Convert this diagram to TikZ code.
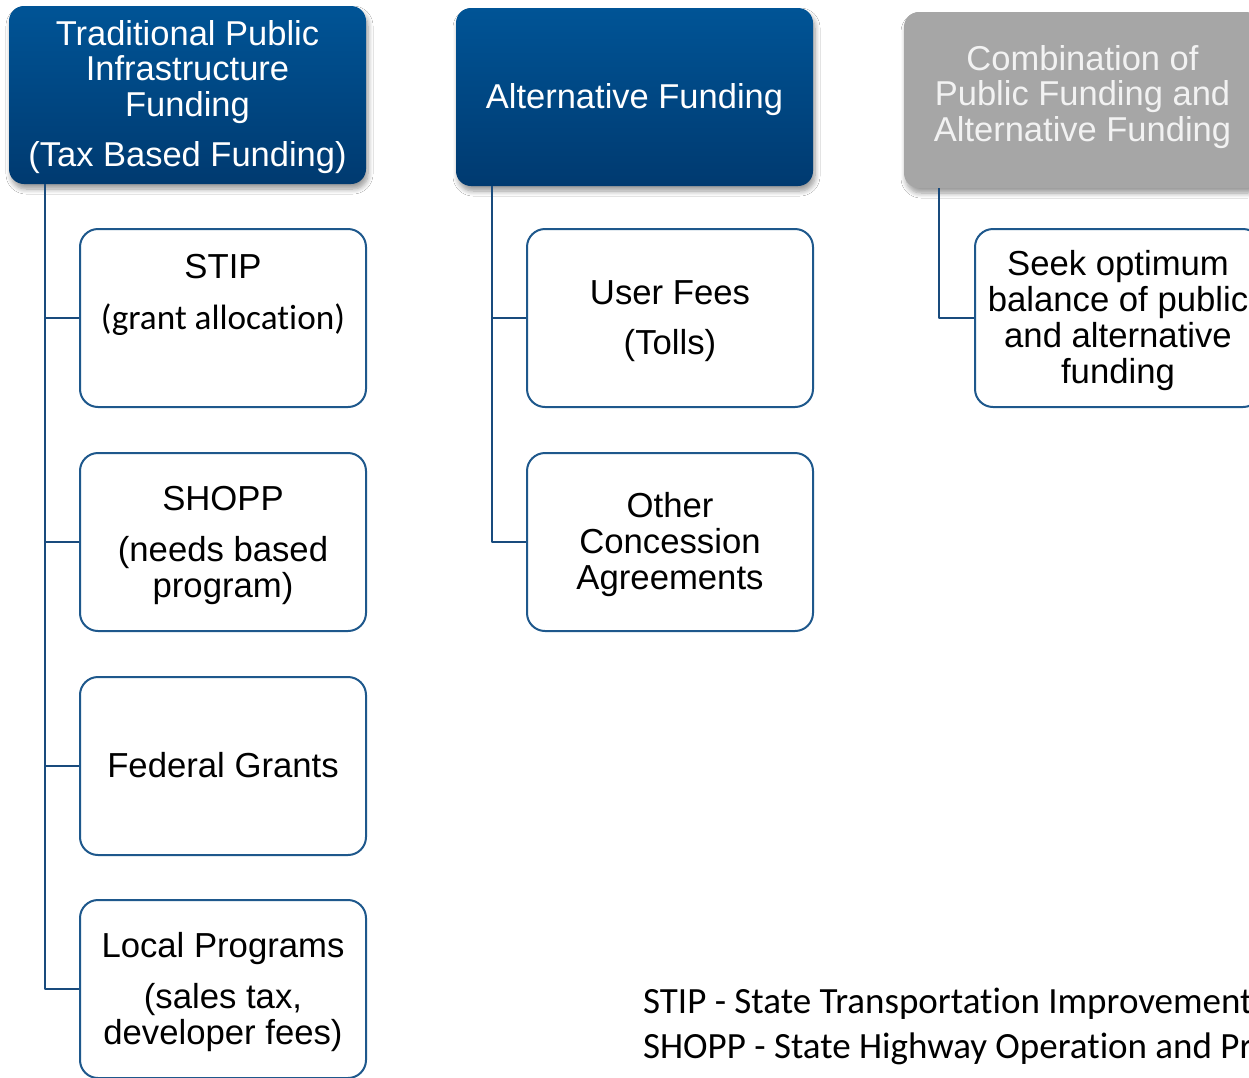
\documentclass[tikz,border=0pt]{standalone}
\usepackage{fontspec}
\setmainfont{Liberation Sans}
\newfontfamily\calibri[Ligatures=NoCommon]{Carlito}
\usepackage{tikz}
\usetikzlibrary{shadows,shadows.blur,backgrounds}
\definecolor{hdrtop}{RGB}{0,84,150}
\definecolor{hdrbot}{RGB}{0,58,112}
\definecolor{hdrgray}{RGB}{166,166,166}
\definecolor{boxline}{RGB}{30,88,140}
\definecolor{linkline}{RGB}{25,75,125}

\begin{document}
\begin{tikzpicture}[x=1pt,y=-1pt,join=round,
    hdr/.style={rounded corners=15pt,minimum width=357pt,minimum height=178pt,inner sep=0pt,
        blur shadow={shadow xshift=2pt,shadow yshift=-5pt,shadow blur radius=5pt,
            shadow blur steps=8,shadow opacity=40}},
    bluehdr/.style={hdr,top color=hdrtop,bottom color=hdrbot},
    grayhdr/.style={hdr,fill=hdrgray,minimum height=176pt},
    hdrtxt/.style={inner sep=0pt,align=center,text=white,font=\fontsize{34.5}{35.5}\selectfont},
    childbox/.style={draw=boxline,line width=2pt,rounded corners=18pt,fill=white,
        minimum width=286pt,minimum height=178pt,inner sep=0pt},
    childtxt/.style={inner sep=0pt,align=center,font=\fontsize{34.7}{36}\selectfont},
    link/.style={draw=linkline,line width=2pt}] % Funding Options
  \useasboundingbox[fill=white] (0,0) rectangle (1249,1077);
  % header boxes
  \node[bluehdr] (trad) at (187.5,95) {};
  \node[hdrtxt] (tradtxt) at ([yshift=-2pt]trad) {Traditional Public\\Infrastructure\\Funding\\[14.5pt](Tax Based Funding)};
  \node[bluehdr] (alt) at (634.5,97) {};
  \node[hdrtxt] (alttxt) at ([yshift=-3pt]alt) {Alternative Funding};
  \node[grayhdr] (comb) at (1082.5,100) {};
  \node[hdrtxt,text=white!95!black] (combtxt) at ([yshift=3pt]comb) {Combination of\\Public Funding and\\Alternative Funding};
  % tax based column
  \node[childbox] (stip) at (223,318) {};
  \node[childtxt] (stiptxt) at ([yshift=23.5pt]stip) {STIP\\[15pt]{\calibri\fontsize{35.2}{36}\selectfont (grant allocation)}};
  \node[childbox] (shopp) at (223,542) {};
  \node[childtxt] (shopptxt) at ([yshift=-3pt]shopp) {SHOPP\\[15pt](needs based\\program)};
  \node[childbox] (fed) at (223,766) {};
  \node[childtxt] (fedtxt) at ([yshift=1pt]fed) {Federal Grants};
  \node[childbox] (local) at (223,989) {};
  \node[childtxt] (localtxt) at ([yshift=-3pt]local) {Local Programs\\[15pt](sales tax,\\developer fees)};
  % alternative column
  \node[childbox] (fees) at (670,318) {};
  \node[childtxt] (feestxt) at ([yshift=-3pt]fees) {User Fees\\[14pt](Tolls)};
  \node[childbox] (other) at (670,542) {};
  \node[childtxt] (othertxt) at ([yshift=-3pt]other) {Other\\Concession\\Agreements};
  % combination column
  \node[childbox] (seek) at (1118,318) {};
  \node[childtxt] (seektxt) at ([yshift=-3pt]seek) {Seek optimum\\balance of public\\and alternative\\funding};
  % connectors
  \draw[link] ([xshift=36pt]trad.south west) |- (stip.west);
  \draw[link] ([xshift=36pt]trad.south west) |- (shopp.west);
  \draw[link] ([xshift=36pt]trad.south west) |- (fed.west);
  \draw[link] ([xshift=36pt]trad.south west) |- (local.west);
  \draw[link] ([xshift=36pt]alt.south west) |- (fees.west);
  \draw[link] ([xshift=36pt]alt.south west) |- (other.west);
  \draw[link] ([xshift=35pt]comb.south west) |- (seek.west);
  % abbreviations
  \node[anchor=west,inner sep=0pt,align=left,font=\calibri\fontsize{37}{45}\selectfont] (abbr) at (643,1026)
     {STIP - State Transportation Improvement\\SHOPP - State Highway Operation and Pr};
\end{tikzpicture}
\end{document}
